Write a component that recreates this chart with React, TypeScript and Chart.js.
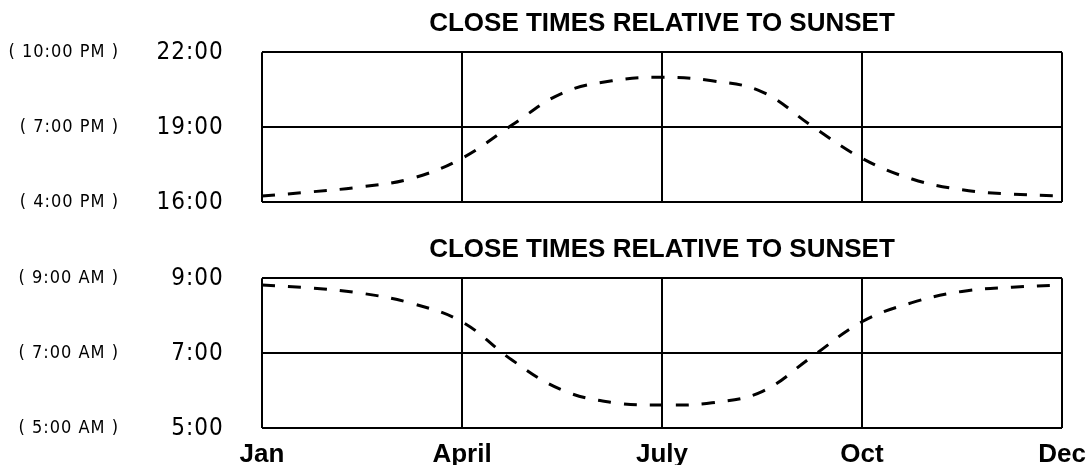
import React, { useEffect, useRef } from 'react';
import { Chart, registerables } from 'chart.js';

Chart.register(...registerables);

const chartTitle = 'CLOSE TIMES RELATIVE TO SUNSET';
const monthLabels = ['Jan', '', '', '', 'April', '', '', '', 'July', '', '', '', 'Oct', '', '', '', 'Dec'];

const sunsetCloseHours = [16.25, 16.42, 16.62, 16.96, 17.76, 19.09, 20.36, 20.86, 21.0, 20.86, 20.42, 19.05, 17.76, 16.93, 16.5, 16.33, 16.25];
const sunriseCloseHours = [8.82, 8.74, 8.6, 8.33, 7.84, 6.82, 6.02, 5.69, 5.62, 5.68, 5.98, 6.91, 7.84, 8.35, 8.65, 8.76, 8.82];

const sunsetTickLabels = ['16:00', '19:00', '22:00'];
const sunsetAltLabels = ['( 4:00 PM )', '( 7:00 PM )', '( 10:00 PM )'];
const sunriseTickLabels = ['5:00', '7:00', '9:00'];
const sunriseAltLabels = ['( 5:00 AM )', '( 7:00 AM )', '( 9:00 AM )'];

const sunsetRange = [16, 22, 3];
const sunriseRange = [5, 9, 2];

const TITLE_FONT = '"Liberation Sans", Arial, Helvetica, sans-serif';
const DIGIT_FONT = '"DejaVu Sans Condensed", "DejaVu Sans", sans-serif';

// y-axis labels are drawn in the z>0 phase (after datasets) with slight tracking
const trackingPlugin = {
  id: 'tracking',
  beforeDraw(chart: any) {
    chart.ctx.letterSpacing = '0px';
  },
  afterDatasetsDraw(chart: any) {
    chart.ctx.letterSpacing = '1px';
  },
  afterDraw(chart: any) {
    chart.ctx.letterSpacing = '0px';
  },
};

type PanelProps = {
  top: number;
  height: number;
  values: number[];
  range: number[];
  tickLabels: string[];
  altLabels: string[];
  showX: boolean;
  titlePad: number[];
  xHeight: number;
};

function Panel(p: PanelProps) {
  const ref = useRef<HTMLCanvasElement | null>(null);
  useEffect(() => {
    if (!ref.current) return;
    const chart = new Chart(ref.current, {
      type: 'line',
      data: {
        labels: monthLabels,
        datasets: [
          {
            data: p.values,
            borderColor: '#000',
            borderWidth: 3,
            borderDash: [13, 13],
            pointRadius: 0,
            tension: 0.4,
            fill: false,
            xAxisID: 'x',
            yAxisID: 'y',
          },
        ],
      },
      plugins: [trackingPlugin],
      options: {
        responsive: false,
        maintainAspectRatio: false,
        animation: false,
        devicePixelRatio: 1,
        layout: { padding: { left: 0, right: 28, top: 0, bottom: 0 } },
        plugins: {
          legend: { display: false },
          tooltip: { enabled: false },
          title: {
            display: true,
            fullSize: false,
            text: chartTitle,
            color: '#000',
            font: { family: TITLE_FONT, weight: 'bold', size: 26, lineHeight: 1.2 },
            padding: { top: p.titlePad[0], bottom: p.titlePad[1] },
          },
        },
        scales: {
          x: {
            type: 'category',
            offset: false,
            grid: {
              color: (c: any) => (monthLabels[c.index] ? '#000' : 'rgba(0,0,0,0)'),
              lineWidth: 2,
              drawTicks: false,
            },
            border: { display: false },
            ticks: {
              display: p.showX,
              autoSkip: false,
              maxRotation: 0,
              minRotation: 0,
              padding: 11.4,
              color: '#000',
              font: { family: TITLE_FONT, weight: 'bold', size: 26, lineHeight: 1.2 },
            },
            afterFit: (s: any) => {
              s.height = p.xHeight;
              s.paddingLeft = 0;
              s.paddingRight = 0;
            },
          },
          y: {
            type: 'linear',
            position: 'left',
            weight: 0,
            min: p.range[0],
            max: p.range[1],
            ticks: {
              stepSize: p.range[2],
              callback: (_v: any, i: number) => p.tickLabels[i],
              padding: 38.3,
              z: 1,
              color: '#000',
              font: { family: DIGIT_FONT, size: 24 },
            },
            grid: { color: '#000', lineWidth: 2, drawTicks: false },
            border: { display: false },
            afterFit: (s: any) => {
              s.width = 142;
              s.paddingTop = 0;
              s.paddingBottom = 0;
            },
          },
          yAlt: {
            type: 'linear',
            position: 'left',
            weight: 1,
            min: p.range[0],
            max: p.range[1],
            ticks: {
              stepSize: p.range[2],
              callback: (_v: any, i: number) => p.altLabels[i],
              padding: 1,
              z: 1,
              color: '#000',
              font: { family: DIGIT_FONT, size: 18 },
            },
            grid: { display: false, drawTicks: false },
            border: { display: false },
            afterFit: (s: any) => {
              s.width = 120;
              s.paddingTop = 0;
              s.paddingBottom = 0;
            },
          },
        },
      } as any,
    });
    return () => chart.destroy();
  }, []);
  return (
    <canvas
      ref={ref}
      width={1090}
      height={p.height}
      style={{ position: 'absolute', left: 0, top: p.top, width: 1090, height: p.height }}
    />
  );
}

export default function App() {
  return (
    <div style={{ position: 'absolute', left: 0, top: 0, width: 1090, height: 465, background: '#fff', overflow: 'hidden' }}>
      <Panel
        top={0}
        height={225}
        values={sunsetCloseHours}
        range={sunsetRange}
        tickLabels={sunsetTickLabels}
        altLabels={sunsetAltLabels}
        showX={false}
        titlePad={[8.4, 12.7]}
        xHeight={22.7}
      />
      <Panel
        top={225}
        height={240}
        values={sunriseCloseHours}
        range={sunriseRange}
        tickLabels={sunriseTickLabels}
        altLabels={sunriseAltLabels}
        showX={true}
        titlePad={[9.1, 13.0]}
        xHeight={36.7}
      />
    </div>
  );
}
